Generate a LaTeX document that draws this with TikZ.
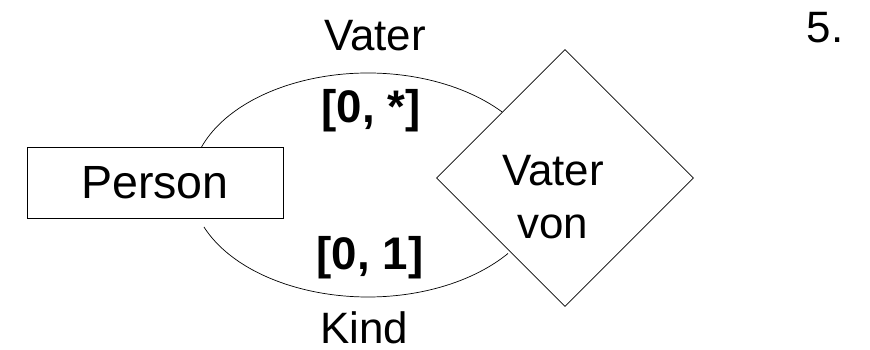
\documentclass[tikz,border=0pt]{standalone}
\usepackage{fontspec}
\setmainfont{Liberation Sans}
\usepackage{tikz}
\usetikzlibrary{shapes.geometric,calc,positioning}

\begin{document}
\begin{tikzpicture}[x=0.02cm, y=-0.02cm]
	\tikzstyle{every node} = [inner sep = 0pt, font = \fontsize{25}{30.6}\selectfont]
	\tikzstyle{entity} = [rectangle, draw = black, fill = white, minimum width = 5.12cm, minimum height = 1.42cm]
	\tikzstyle{relation} = [diamond, draw = black, fill = white, minimum width = 5.14cm, minimum height = 5.14cm]
	\tikzstyle{card} = [font = \fontsize{26}{30}\selectfont\bfseries]
\useasboundingbox (0, 0) rectangle (870, 350);
\coordinate (ell) at (368, 185);
	\path[draw] (ell) ++(161.6:3.54cm and 2.24cm) arc[start angle = 161.6, end angle = 40.8, x radius = 3.54cm, y radius = 2.24cm];
	\path[draw] (ell) ++(202:3.54cm and 2.24cm) arc[start angle = 202, end angle = 322.3, x radius = 3.54cm, y radius = 2.24cm];
\node[entity] (person) at (155, 182.5) {\fontsize{26.5}{30}\selectfont Person};
\node[relation] (vatervon) at (565, 178) {};
\node[align = center] (vatervontxt) at (553, 197) {Vater\\von};
\node (vater) at (375, 36) {Vater};
\node (kind) at (364, 328) {Kind};
\node[card] (cardtop) at (371, 111) {[0, *]};
\node[card] (cardbot) at (370, 258) {[0, 1]};
\node (nr) at (825, 28) {5.};
\end{tikzpicture}
\end{document}
